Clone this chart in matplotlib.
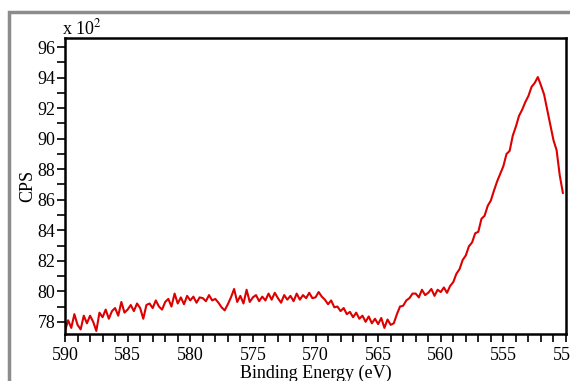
import numpy as np
import matplotlib
matplotlib.use("Agg")
import matplotlib.pyplot as plt
from matplotlib.ticker import MultipleLocator, FuncFormatter
from matplotlib.patches import Rectangle

plt.rcParams["font.family"] = ["Liberation Serif", "DejaVu Serif"]
plt.rcParams["mathtext.fontset"] = "stix"

# binding energy grid, 0.25 eV steps from 590 down to 550.25
energy = np.linspace(590, 550.25, 160)

# counts per second, one row per eV
cps = [
    7740, 7810, 7760, 7850,   # 590
    7780, 7750, 7840, 7790,   # 589
    7840, 7800, 7740, 7860,   # 588
    7830, 7880, 7820, 7870,   # 587
    7890, 7840, 7930, 7860,   # 586
    7880, 7910, 7870, 7920,   # 585
    7890, 7820, 7910, 7920,   # 584
    7890, 7940, 7900, 7880,   # 583
    7930, 7950, 7900, 7985,   # 582
    7920, 7960, 7915, 7970,   # 581
    7940, 7965, 7925, 7960,   # 580
    7955, 7935, 7975, 7940,   # 579
    7950, 7925, 7895, 7875,   # 578
    7915, 7960, 8015, 7930,   # 577
    7970, 7920, 8010, 7930,   # 576
    7960, 7975, 7935, 7965,   # 575
    7940, 7985, 7945, 7990,   # 574
    7955, 7925, 7975, 7945,   # 573
    7970, 7935, 7985, 7945,   # 572
    7975, 7955, 7990, 7955,   # 571
    7960, 7995, 7965, 7945,   # 570
    7915, 7940, 7895, 7900,   # 569
    7870, 7890, 7850, 7865,   # 568
    7830, 7860, 7820, 7840,   # 567
    7800, 7835, 7790, 7820,   # 566
    7785, 7825, 7760, 7815,   # 565
    7780, 7790, 7850, 7900,   # 564
    7905, 7940, 7955, 7985,   # 563
    7985, 7960, 8010, 7975,   # 562
    7990, 8015, 7970, 8010,   # 561
    7995, 8025, 7990, 8035,   # 560
    8060, 8115, 8145, 8205,   # 559
    8235, 8295, 8320, 8380,   # 558
    8390, 8475, 8495, 8560,   # 557
    8595, 8660, 8720, 8770,   # 556
    8820, 8900, 8920, 9020,   # 555
    9080, 9150, 9190, 9240,   # 554
    9280, 9340, 9365, 9404,   # 553
    9350, 9290, 9190, 9090,   # 552
    8990, 8925, 8760, 8645,   # 551
]

fig = plt.figure(figsize=(5.7, 3.81), dpi=100)
ax = fig.add_axes([65 / 570, 47 / 381, 501 / 570, 296 / 381])

ax.plot(energy, cps, color="#dd0000", lw=1.5)

ax.set_xlim(590, 550)
ax.set_ylim(7720, 9660)
ax.xaxis.set_major_locator(MultipleLocator(5))
ax.xaxis.set_minor_locator(MultipleLocator(1))
ax.yaxis.set_major_locator(MultipleLocator(200))
ax.yaxis.set_minor_locator(MultipleLocator(100))
ax.yaxis.set_major_formatter(FuncFormatter(lambda v, p: f"{v / 100:.0f}"))

for s in ax.spines.values():
    s.set_linewidth(1.8)
ax.tick_params(which="both", direction="out", length=6, width=1.2,
               labelsize=13, colors="black")
ax.tick_params(axis="y", which="both", length=6, pad=1)
ax.tick_params(axis="x", pad=3)

ax.set_ylabel("CPS", fontsize=13, labelpad=1)
fig.text(316 / 570, 3 / 381, "Binding Energy (eV)", fontsize=13,
         ha="center", va="baseline")
ax.text(-0.005, 1.0, r"x 10$^{2}$", transform=ax.transAxes, fontsize=13,
        ha="left", va="bottom")

fig.patches.append(Rectangle((9 / 570, -0.1), 2, 1 - 12 / 381 + 0.1,
                             transform=fig.transFigure, fill=False,
                             edgecolor="#8c8c8c", lw=2.5))

fig.savefig("out.png", dpi=100)
